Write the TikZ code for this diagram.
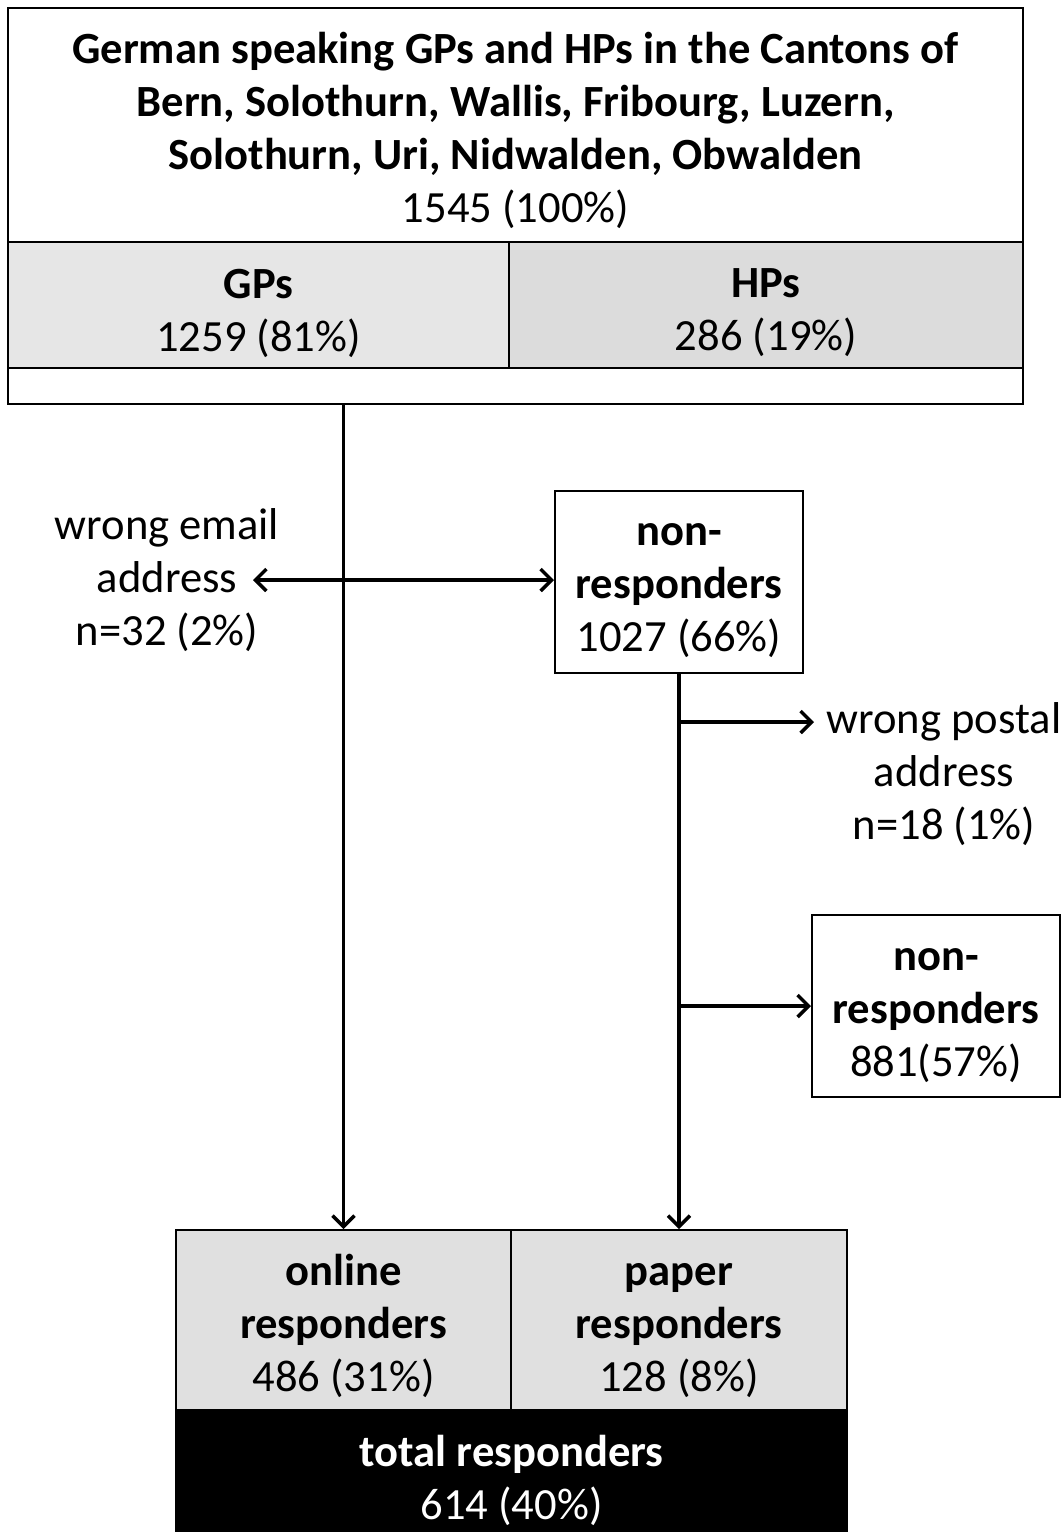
\documentclass[tikz,border=0pt]{standalone}
\usepackage{fontspec}
\setmainfont{Carlito}
\usetikzlibrary{arrows.meta}
\definecolor{cellA}{HTML}{E6E6E6}
\definecolor{cellB}{HTML}{DCDCDC}
\definecolor{cellC}{HTML}{E0E0E0}
\tikzset{
  box/.style={draw=black, line width=2pt, inner sep=0pt, align=center, anchor=center},
  txt/.style={inner sep=0pt, align=center, font=\fontsize{44.6}{53}\selectfont},
  tip/.tip={Straight Barb[length=11pt,width=22pt,line width=3.5pt]},
  flow/.style={line width=3.5pt, -tip},
  flowboth/.style={line width=4pt, tip-tip},
}
\begin{document}
\begin{tikzpicture}[x=1pt,y=-1pt]
\useasboundingbox (0,0) rectangle (1062,1532);
% top block
\node[box, minimum width=1015pt, minimum height=396pt] (top) at (515.5,206) {};
\node[box, fill=cellA, minimum width=501pt, minimum height=126pt] (gps) at (258.5,305) {};
\node[box, fill=cellB, minimum width=514pt, minimum height=126pt] (hps) at (766,305) {};
\node[txt] (title) at (515.5,130) {\textbf{German speaking GPs and HPs in the Cantons of}\\ \textbf{Bern, Solothurn, Wallis, Fribourg, Luzern,}\\ \textbf{Solothurn, Uri, Nidwalden, Obwalden}\\ 1545 (100\%)};
\node[txt] (gpst) at (258.5,313) {\textbf{GPs}\\1259 (81\%)};
\node[txt] (hpst) at (766,313) {\textbf{HPs}\\286 (19\%)};
% non-responders 1
\node[box, minimum width=248pt, minimum height=182pt] (nr1) at (679,582) {};
\node[txt] (nr1t) at (679,591) {\textbf{non-}\\\textbf{responders}\\1027 (66\%)};
% wrong email
\node[txt] (email) at (167,580) {wrong email\\address\\n=32 (2\%)};
\coordinate (eA) at (253,580);
% wrong postal
\node[txt] (postal) at (944,774) {wrong postal\\address\\n=18 (1\%)};
\coordinate (pA) at (814,722);
% non-responders 2
\node[box, minimum width=248pt, minimum height=182pt] (nr2) at (936,1006) {};
\node[txt] (nr2t) at (936,1016) {\textbf{non-}\\\textbf{responders}\\881(57\%)};
% bottom
\node[box, fill=cellC, minimum width=335pt, minimum height=180pt] (online) at (343.5,1320) {};
\node[box, fill=cellC, minimum width=336pt, minimum height=180pt] (paper) at (679,1320) {};
\node[box, fill=black, minimum width=671pt, minimum height=124pt] (total) at (511.5,1472) {};
\node[txt] (onlinet) at (343.5,1326) {\textbf{online}\\\textbf{responders}\\486 (31\%)};
\node[txt] (papert) at (679,1331) {\textbf{paper}\\\textbf{responders}\\128 (8\%)};
\node[txt, text=white] (totalt) at (511.5,1480) {\textbf{total responders}\\614 (40\%)};
% connectors
\draw[flow] (top.south -| online.north) -- (online.north);
\draw[flow] (nr1.south) -- (paper.north);
\draw[flowboth] (eA) -- (eA -| nr1.west);
\draw[flowboth, -tip] (pA -| nr1.south) -- (pA);
\draw[flowboth, -tip] (nr2.west -| nr1.south) -- (nr2.west);
\end{tikzpicture}
\end{document}
